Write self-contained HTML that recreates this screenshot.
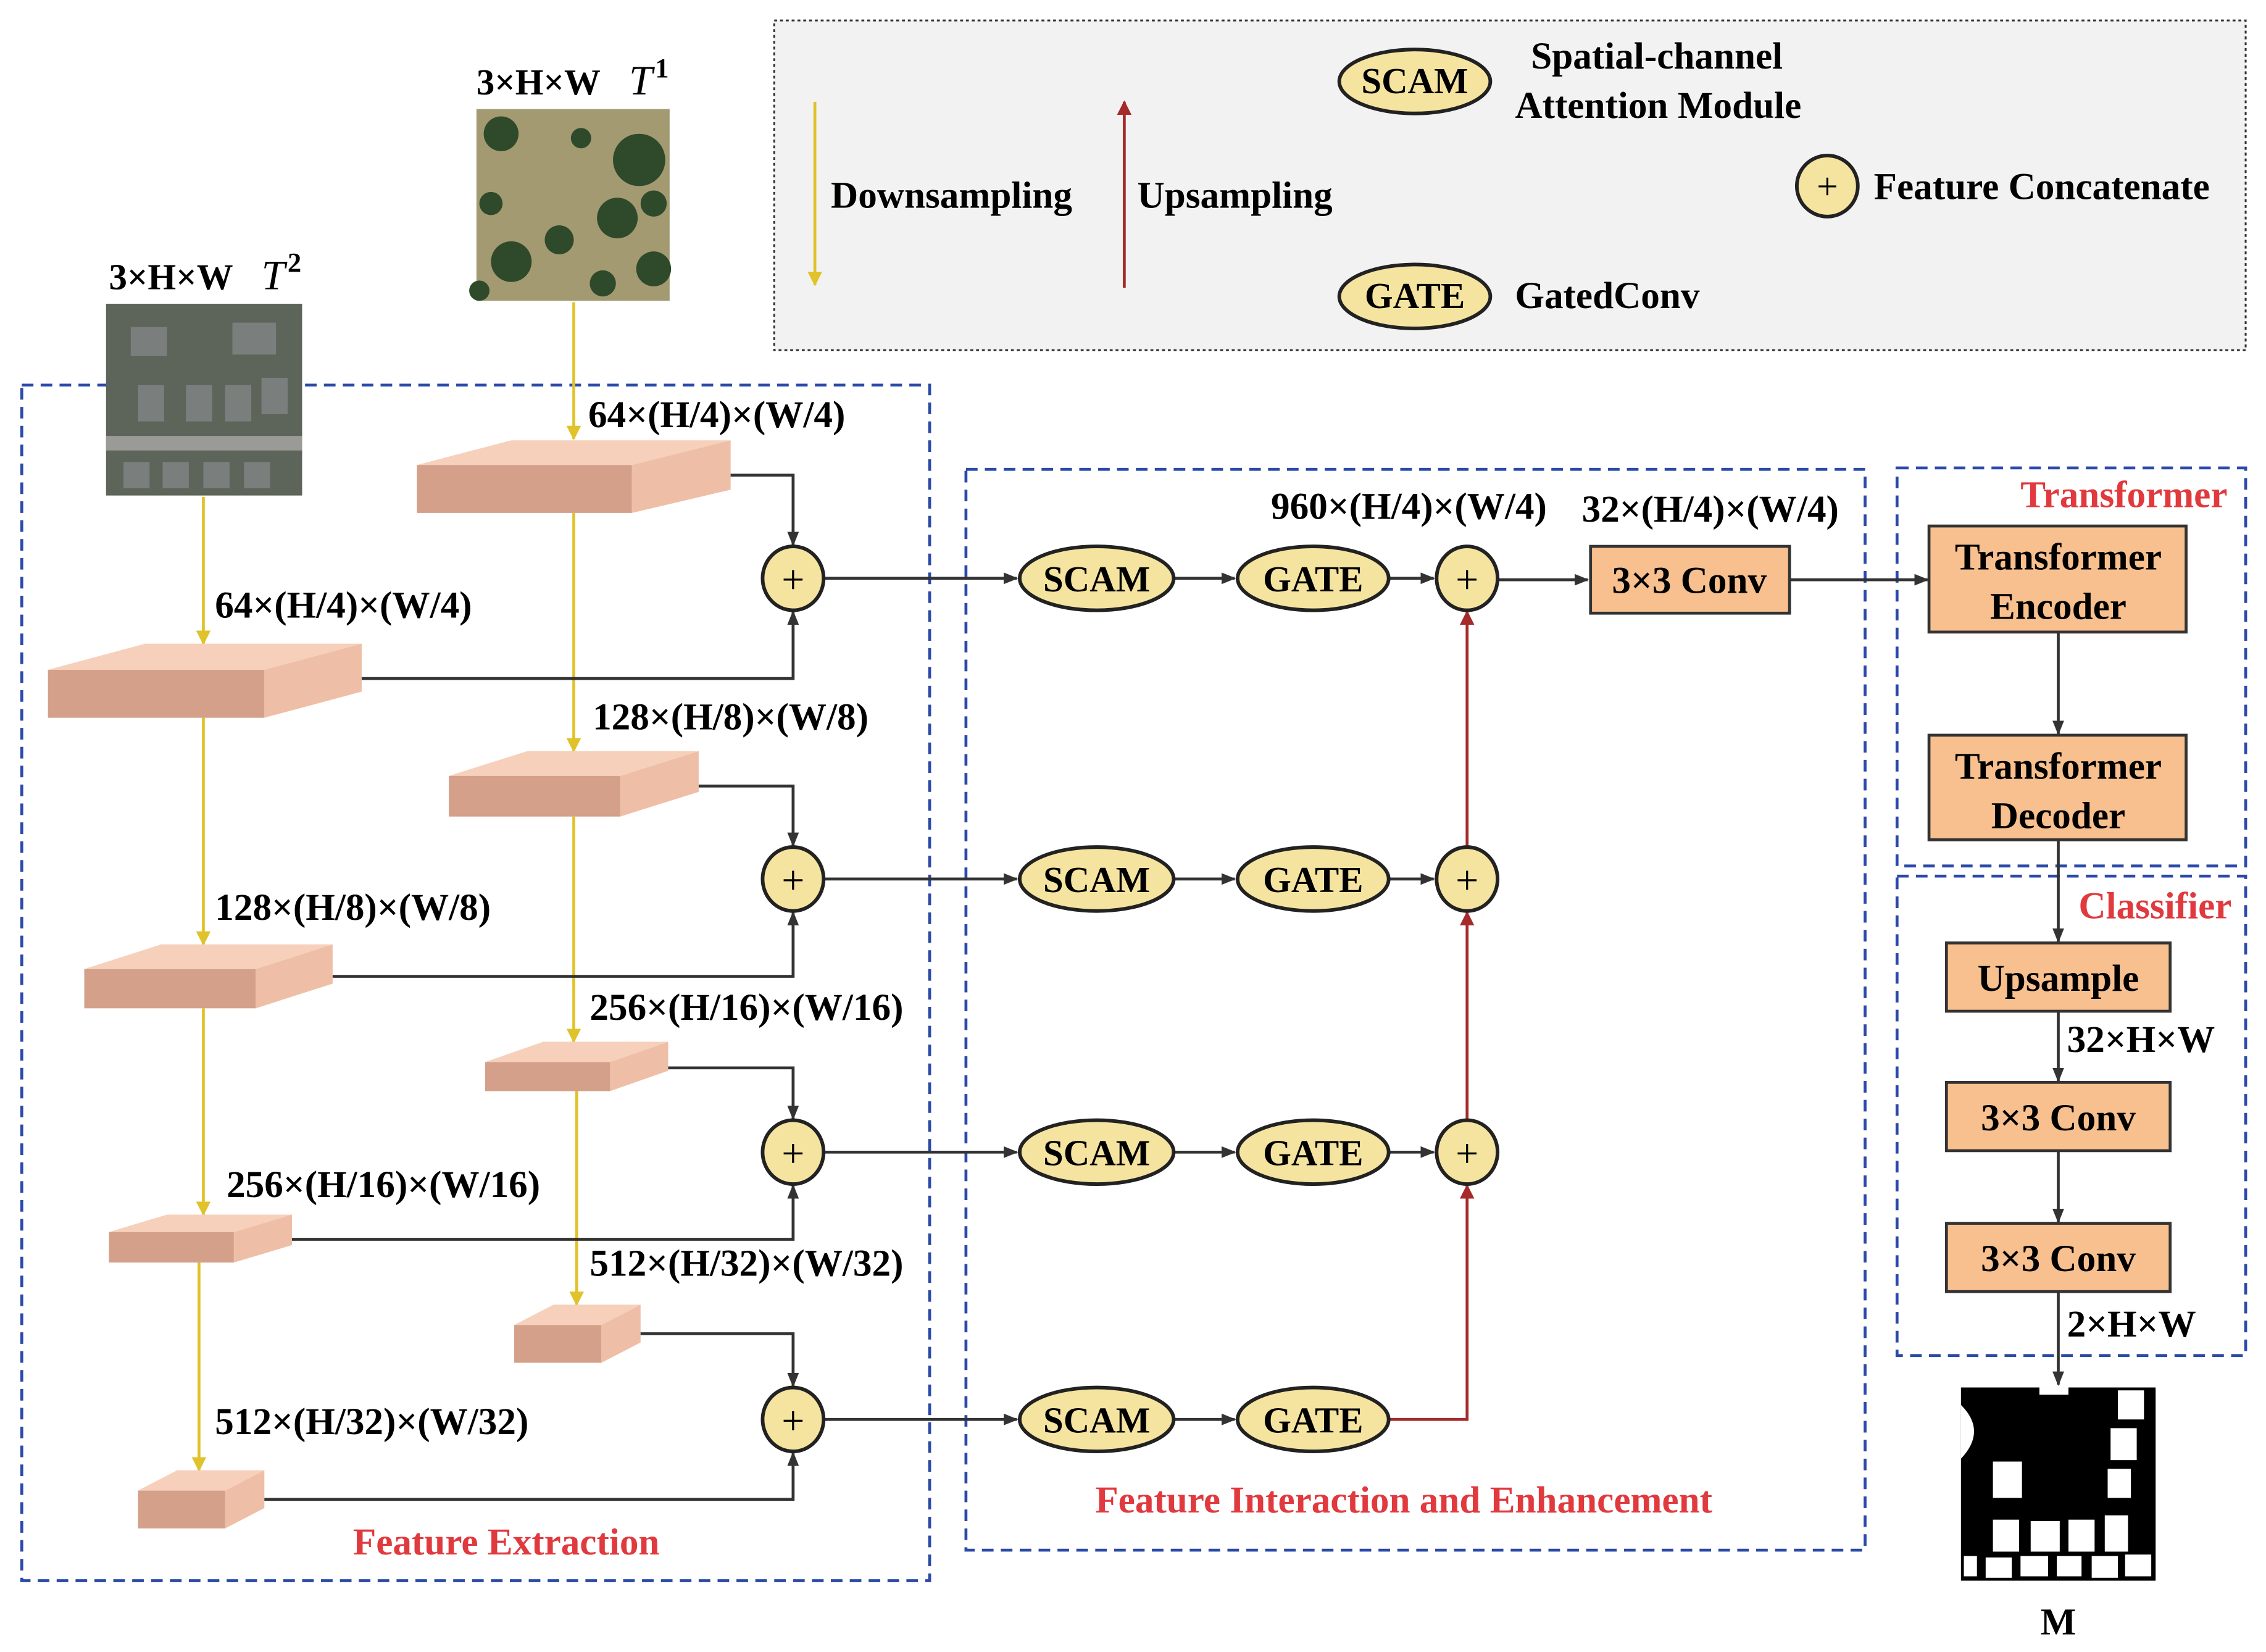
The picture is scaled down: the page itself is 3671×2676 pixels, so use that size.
<!DOCTYPE html>
<html><head><meta charset="utf-8"><style>
html,body{margin:0;padding:0;background:#fff;}
svg{display:block;}
text{font-family:"Liberation Serif",serif;font-weight:bold;}
</style></head><body>
<svg width="3671" height="2676" viewBox="0 0 1560 1137" xmlns="http://www.w3.org/2000/svg">
<defs>
<marker id="ab" markerWidth="10" markerHeight="10" refX="9" refY="5" orient="auto" markerUnits="userSpaceOnUse"><path d="M0,1 L10,5 L0,9 z" fill="#333"/></marker>
<marker id="ay" markerWidth="10" markerHeight="12" refX="9" refY="6" orient="auto" markerUnits="userSpaceOnUse"><path d="M0,1 L10,6 L0,11 z" fill="#e0c22a"/></marker>
<marker id="ar" markerWidth="10" markerHeight="12" refX="9" refY="6" orient="auto" markerUnits="userSpaceOnUse"><path d="M0,1 L10,6 L0,11 z" fill="#a52a2a"/></marker>
</defs>
<rect width="1560" height="1137" fill="#fff"/>

<!-- legend -->
<rect x="533" y="14" width="1013" height="227" fill="#f2f2f2" stroke="#333" stroke-width="1.3" stroke-dasharray="2,2"/>
<line x1="561" y1="70" x2="561" y2="196" stroke="#e0c22a" stroke-width="2" marker-end="url(#ay)"/>
<text x="572" y="143" font-size="26">Downsampling</text>
<line x1="774" y1="198" x2="774" y2="70" stroke="#a52a2a" stroke-width="2" marker-end="url(#ar)"/>
<text x="783" y="143" font-size="26">Upsampling</text>
<ellipse cx="974" cy="56" rx="52" ry="22" fill="#f5e4a0" stroke="#222" stroke-width="2.5"/>
<text x="974" y="64" font-size="25" text-anchor="middle">SCAM</text>
<text x="1054" y="47" font-size="26">Spatial-channel</text>
<text x="1043" y="81" font-size="26">Attention Module</text>
<ellipse cx="1258" cy="128" rx="21" ry="21" fill="#f5e4a0" stroke="#222" stroke-width="2.5"/>
<text x="1258" y="137" font-size="26" text-anchor="middle" style="font-weight:normal">+</text>
<text x="1290" y="137" font-size="26">Feature Concatenate</text>
<ellipse cx="974" cy="204" rx="52" ry="22" fill="#f5e4a0" stroke="#222" stroke-width="2.5"/>
<text x="974" y="212" font-size="25" text-anchor="middle">GATE</text>
<text x="1043" y="212" font-size="26">GatedConv</text>

<!-- dashed boxes -->
<g fill="none" stroke="#2b4aa8" stroke-width="2" stroke-dasharray="8,5">
<rect x="15" y="265" width="625" height="823"/>
<rect x="665" y="323" width="619" height="744"/>
<rect x="1306" y="322" width="240" height="274"/>
<rect x="1306" y="603" width="240" height="330"/>
</g>

<!-- images -->
<g>
<rect x="328" y="75" width="133" height="132" fill="#a39a72"/>
<g fill="#2f4a2a">
<circle cx="345" cy="92" r="12"/><circle cx="440" cy="110" r="18"/><circle cx="425" cy="150" r="14"/>
<circle cx="352" cy="180" r="14"/><circle cx="385" cy="165" r="10"/><circle cx="450" cy="185" r="12"/>
<circle cx="400" cy="95" r="7"/><circle cx="338" cy="140" r="8"/><circle cx="415" cy="195" r="9"/>
<circle cx="450" cy="140" r="9"/><circle cx="330" cy="200" r="7"/>
</g>
<rect x="73" y="209" width="135" height="132" fill="#5d6459"/>
<rect x="73" y="300" width="135" height="10" fill="#9a9a96"/>
<g fill="#7a7f7e"><rect x="95" y="265" width="18" height="25"/><rect x="128" y="265" width="18" height="25"/><rect x="155" y="265" width="18" height="25"/><rect x="180" y="260" width="18" height="25"/>
<rect x="85" y="318" width="18" height="18"/><rect x="112" y="318" width="18" height="18"/><rect x="140" y="318" width="18" height="18"/><rect x="168" y="318" width="18" height="18"/>
<rect x="90" y="225" width="25" height="20"/><rect x="160" y="222" width="30" height="22"/></g>
</g>
<text x="328" y="65" font-size="25">3×H×W</text><text x="433" y="65" font-size="29" font-style="italic" style="font-weight:normal">T</text><text x="451" y="53" font-size="19">1</text>
<text x="75" y="199" font-size="25">3×H×W</text><text x="180" y="199" font-size="29" font-style="italic" style="font-weight:normal">T</text><text x="198" y="187" font-size="19">2</text>

<!-- yellow lines -->
<g stroke="#e0c22a" stroke-width="2" fill="none" marker-end="url(#ay)">
<line x1="395" y1="208" x2="395" y2="302"/>
<line x1="395" y1="353" x2="395" y2="517"/>
<line x1="395" y1="562" x2="395" y2="717"/>
<line x1="397" y1="751" x2="397" y2="898"/>
<line x1="140" y1="342" x2="140" y2="443"/>
<line x1="140" y1="494" x2="140" y2="650"/>
<line x1="140" y1="694" x2="140" y2="836"/>
<line x1="137" y1="869" x2="137" y2="1012"/>
</g>

<!-- blocks -->
<g>
<polygon points="287,320 352,303 503,303 435,320" fill="#f6d0bb"/><polygon points="435,320 503,303 503,337 435,353" fill="#eebfa6"/><rect x="287" y="320" width="148" height="33" fill="#d4a08a"/>
<polygon points="33,461 100,443 249,443 182,461" fill="#f6d0bb"/><polygon points="182,461 249,443 249,476 182,494" fill="#eebfa6"/><rect x="33" y="461" width="149" height="33" fill="#d4a08a"/>
<polygon points="309,534 363,517 481,517 427,534" fill="#f6d0bb"/><polygon points="427,534 481,517 481,545 427,562" fill="#eebfa6"/><rect x="309" y="534" width="118" height="28" fill="#d4a08a"/>
<polygon points="58,667 111,650 229,650 176,667" fill="#f6d0bb"/><polygon points="176,667 229,650 229,677 176,694" fill="#eebfa6"/><rect x="58" y="667" width="118" height="27" fill="#d4a08a"/>
<polygon points="334,731 374,717 460,717 420,731" fill="#f6d0bb"/><polygon points="420,731 460,717 460,737 420,751" fill="#eebfa6"/><rect x="334" y="731" width="86" height="20" fill="#d4a08a"/>
<polygon points="75,848 115,836 201,836 161,848" fill="#f6d0bb"/><polygon points="161,848 201,836 201,857 161,869" fill="#eebfa6"/><rect x="75" y="848" width="86" height="21" fill="#d4a08a"/>
<polygon points="354,912 381,898 441,898 414,912" fill="#f6d0bb"/><polygon points="414,912 441,898 441,924 414,938" fill="#eebfa6"/><rect x="354" y="912" width="60" height="26" fill="#d4a08a"/>
<polygon points="95,1026 122,1012 182,1012 155,1026" fill="#f6d0bb"/><polygon points="155,1026 182,1012 182,1038 155,1052" fill="#eebfa6"/><rect x="95" y="1026" width="60" height="26" fill="#d4a08a"/>
</g>

<!-- dim labels -->
<g font-size="26">
<text x="405" y="294">64×(H/4)×(W/4)</text>
<text x="148" y="425">64×(H/4)×(W/4)</text>
<text x="408" y="502">128×(H/8)×(W/8)</text>
<text x="148" y="633">128×(H/8)×(W/8)</text>
<text x="406" y="702">256×(H/16)×(W/16)</text>
<text x="156" y="824">256×(H/16)×(W/16)</text>
<text x="406" y="878">512×(H/32)×(W/32)</text>
<text x="148" y="987">512×(H/32)×(W/32)</text>
<text x="875" y="357">960×(H/4)×(W/4)</text>
<text x="1089" y="359">32×(H/4)×(W/4)</text>
<text x="1423" y="724">32×H×W</text>
<text x="1423" y="920">2×H×W</text>
<text x="1417" y="1125" font-size="26" text-anchor="middle">M</text>
</g>
<g font-size="26" fill="#e0393e">
<text x="243" y="1070">Feature Extraction</text>
<text x="754" y="1041">Feature Interaction and Enhancement</text>
<text x="1391" y="349">Transformer</text>
<text x="1431" y="632">Classifier</text>
</g>

<!-- black connectors to plus -->
<g stroke="#333" stroke-width="2" fill="none" marker-end="url(#ab)">
<polyline points="503,327 546,327 546,375"/>
<polyline points="249,467 546,467 546,421"/>
<polyline points="481,541 546,541 546,582"/>
<polyline points="229,672 546,672 546,628"/>
<polyline points="460,735 546,735 546,770"/>
<polyline points="201,853 546,853 546,816"/>
<polyline points="441,918 546,918 546,954"/>
<polyline points="182,1032 546,1032 546,1000"/>
</g>

<!-- rows -->
<g stroke="#333" stroke-width="2" fill="none" marker-end="url(#ab)">
<line x1="568" y1="398" x2="700" y2="398"/><line x1="808" y1="398" x2="850" y2="398"/><line x1="957" y1="398" x2="987" y2="398"/>
<line x1="568" y1="605" x2="700" y2="605"/><line x1="808" y1="605" x2="850" y2="605"/><line x1="957" y1="605" x2="987" y2="605"/>
<line x1="568" y1="793" x2="700" y2="793"/><line x1="808" y1="793" x2="850" y2="793"/><line x1="957" y1="793" x2="987" y2="793"/>
<line x1="568" y1="977" x2="700" y2="977"/><line x1="808" y1="977" x2="850" y2="977"/>
<line x1="1032" y1="399" x2="1093" y2="399"/>
<line x1="1232" y1="399" x2="1327" y2="399"/>
<line x1="1417" y1="435" x2="1417" y2="505"/>
<line x1="1417" y1="578" x2="1417" y2="648"/>
<line x1="1417" y1="696" x2="1417" y2="744"/>
<line x1="1417" y1="792" x2="1417" y2="841"/>
<line x1="1417" y1="889" x2="1417" y2="953"/>
</g>
<g stroke="#a52a2a" stroke-width="2" fill="none" marker-end="url(#ar)">
<polyline points="957,977 1010,977 1010,816"/>
<line x1="1010" y1="771" x2="1010" y2="628"/>
<line x1="1010" y1="583" x2="1010" y2="421"/>
</g>

<!-- plus circles -->
<g fill="#f5e4a0" stroke="#222" stroke-width="2.5">
<ellipse cx="546" cy="398" rx="21" ry="22"/><ellipse cx="546" cy="605" rx="21" ry="22"/><ellipse cx="546" cy="793" rx="21" ry="22"/><ellipse cx="546" cy="977" rx="21" ry="22"/>
<ellipse cx="1010" cy="398" rx="21" ry="22"/><ellipse cx="1010" cy="605" rx="21" ry="22"/><ellipse cx="1010" cy="793" rx="21" ry="22"/>
</g>
<g font-size="28" text-anchor="middle">
<text x="546" y="408" style="font-weight:normal">+</text><text x="546" y="615" style="font-weight:normal">+</text><text x="546" y="803" style="font-weight:normal">+</text><text x="546" y="987" style="font-weight:normal">+</text>
<text x="1010" y="408" style="font-weight:normal">+</text><text x="1010" y="615" style="font-weight:normal">+</text><text x="1010" y="803" style="font-weight:normal">+</text>
</g>
<!-- SCAM/GATE -->
<g fill="#f5e4a0" stroke="#222" stroke-width="2.5">
<ellipse cx="755" cy="398" rx="53" ry="22"/><ellipse cx="904" cy="398" rx="52" ry="22"/>
<ellipse cx="755" cy="605" rx="53" ry="22"/><ellipse cx="904" cy="605" rx="52" ry="22"/>
<ellipse cx="755" cy="793" rx="53" ry="22"/><ellipse cx="904" cy="793" rx="52" ry="22"/>
<ellipse cx="755" cy="977" rx="53" ry="22"/><ellipse cx="904" cy="977" rx="52" ry="22"/>
</g>
<g font-size="25" text-anchor="middle">
<text x="755" y="407">SCAM</text><text x="904" y="407">GATE</text>
<text x="755" y="614">SCAM</text><text x="904" y="614">GATE</text>
<text x="755" y="802">SCAM</text><text x="904" y="802">GATE</text>
<text x="755" y="986">SCAM</text><text x="904" y="986">GATE</text>
</g>

<!-- orange boxes -->
<g fill="#f7c08e" stroke="#333" stroke-width="2">
<rect x="1095" y="376" width="137" height="46"/>
<rect x="1328" y="362" width="177" height="73"/>
<rect x="1328" y="506" width="177" height="72"/>
<rect x="1340" y="649" width="154" height="47"/>
<rect x="1340" y="745" width="154" height="47"/>
<rect x="1340" y="842" width="154" height="47"/>
</g>
<g font-size="26" text-anchor="middle">
<text x="1163" y="408">3×3 Conv</text>
<text x="1417" y="392">Transformer</text><text x="1417" y="426">Encoder</text>
<text x="1417" y="536">Transformer</text><text x="1417" y="570">Decoder</text>
<text x="1417" y="682">Upsample</text>
<text x="1417" y="778">3×3 Conv</text>
<text x="1417" y="875">3×3 Conv</text>
</g>

<!-- mask -->
<rect x="1350" y="955" width="134" height="133" fill="#000"/>
<g fill="#fff">
<rect x="1404" y="955" width="20" height="5"/>
<rect x="1458" y="957" width="18" height="20"/>
<rect x="1453" y="983" width="18" height="22"/>
<rect x="1451" y="1011" width="16" height="20"/>
<path d="M1350,967 Q1368,985 1350,1004 z"/>
<rect x="1372" y="1006" width="20" height="25"/>
<rect x="1372" y="1046" width="18" height="22"/>
<rect x="1398" y="1047" width="20" height="21"/>
<rect x="1424" y="1046" width="18" height="22"/>
<rect x="1449" y="1043" width="16" height="25"/>
<rect x="1352" y="1071" width="9" height="14"/>
<rect x="1367" y="1072" width="18" height="14"/>
<rect x="1391" y="1071" width="19" height="14"/>
<rect x="1416" y="1071" width="17" height="14"/>
<rect x="1440" y="1071" width="18" height="15"/>
<rect x="1463" y="1070" width="18" height="15"/>
</g>
</svg>
</body></html>
